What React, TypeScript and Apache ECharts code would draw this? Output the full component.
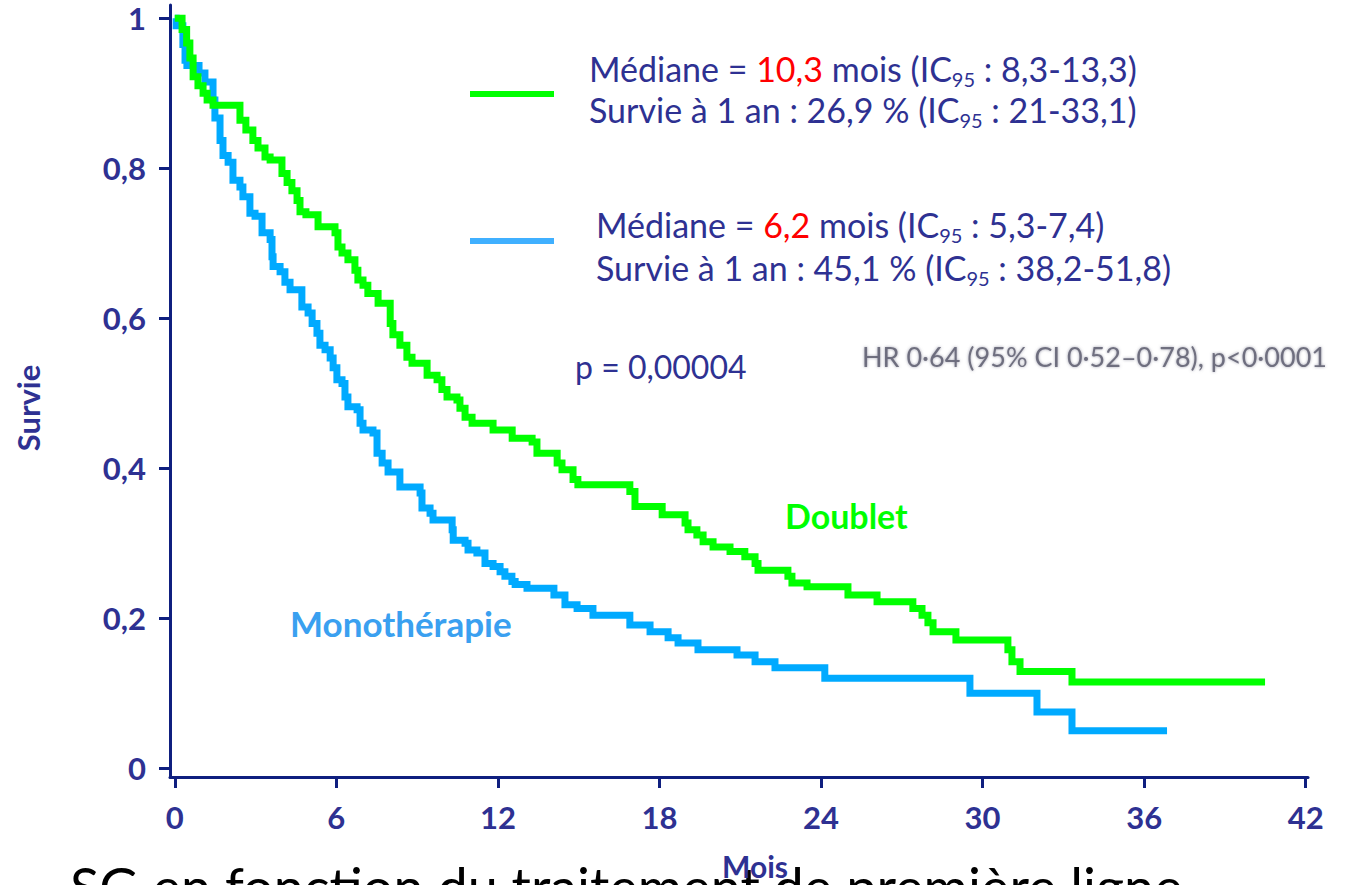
import React, { useEffect, useRef } from "react";
import * as echarts from "echarts";

// Axis ticks
const monthTicks = [0, 6, 12, 18, 24, 30, 36, 42];
const survivalTicks = [0, 0.2, 0.4, 0.6, 0.8, 1];

// Kaplan-Meier steps: month of each event and survival level after it
const doubletMonths = [
  0, 0.27, 0.44, 0.56, 0.68, 0.86, 1.05, 1.2, 1.42, 2.42, 2.64, 2.9, 3.09, 3.35, 3.54,
  3.98, 4.17, 4.35, 4.54, 4.65, 4.87, 5.32, 5.95, 6.06, 6.21, 6.43, 6.69, 6.8, 6.99,
  7.17, 7.55, 8.0, 8.1, 8.36, 8.62, 8.81, 9.37, 9.74, 9.92, 10.11, 10.48, 10.59, 10.78,
  11.04, 11.82, 12.53, 13.27, 13.45, 14.2, 14.38, 14.79, 14.97, 16.9, 17.09, 18.1,
  18.95, 19.06, 19.39, 19.62, 19.99, 20.62, 21.17, 21.55, 21.66, 22.77, 22.92, 23.48,
  25.0, 26.08, 27.41, 27.75, 27.97, 28.16, 29.01, 30.94, 31.09, 31.39, 33.32, 40.49,
];
const doubletSurvival = [
  1, 0.985, 0.967, 0.947, 0.922, 0.91, 0.9, 0.891, 0.884, 0.864, 0.851, 0.837, 0.827,
  0.815, 0.811, 0.793, 0.781, 0.77, 0.757, 0.742, 0.738, 0.722, 0.714, 0.695, 0.687,
  0.678, 0.664, 0.651, 0.644, 0.633, 0.62, 0.593, 0.578, 0.564, 0.548, 0.54, 0.524,
  0.518, 0.505, 0.495, 0.491, 0.48, 0.468, 0.46, 0.451, 0.44, 0.435, 0.42, 0.407,
  0.398, 0.385, 0.378, 0.369, 0.349, 0.338, 0.327, 0.318, 0.311, 0.302, 0.295, 0.289,
  0.282, 0.273, 0.264, 0.256, 0.247, 0.242, 0.231, 0.222, 0.213, 0.204, 0.194, 0.182,
  0.171, 0.158, 0.142, 0.129, 0.115, 0.115,
];

const monoMonths = [
  0, 0.05, 0.3, 0.38, 0.45, 0.9, 1.12, 1.42, 1.49, 1.68, 1.79, 1.98, 2.16, 2.42, 2.53,
  2.79, 2.98, 3.24, 3.54, 3.61, 3.65, 3.91, 4.09, 4.28, 4.72, 4.95, 5.1, 5.28, 5.39,
  5.58, 5.77, 5.88, 6.02, 6.21, 6.32, 6.43, 6.77, 6.88, 6.99, 7.36, 7.51, 7.7, 7.92,
  8.36, 9.11, 9.18, 9.48, 9.59, 10.3, 10.34, 10.78, 10.89, 11.22, 11.52, 11.82, 12.08,
  12.26, 12.52, 12.64, 13.08, 14.08, 14.49, 14.94, 15.53, 16.9, 17.65, 18.32, 18.69,
  19.43, 20.88, 21.55, 22.29, 24.14, 29.53, 32.02, 33.32, 36.85,
];
const monoSurvival = [
  1, 0.99, 0.965, 0.944, 0.937, 0.927, 0.915, 0.891, 0.867, 0.837, 0.817, 0.808, 0.784,
  0.775, 0.762, 0.74, 0.736, 0.714, 0.705, 0.682, 0.669, 0.662, 0.648, 0.638, 0.615,
  0.607, 0.593, 0.58, 0.564, 0.558, 0.547, 0.534, 0.518, 0.513, 0.495, 0.482, 0.478,
  0.46, 0.451, 0.447, 0.42, 0.407, 0.395, 0.375, 0.367, 0.347, 0.34, 0.331, 0.318,
  0.304, 0.3, 0.291, 0.287, 0.273, 0.269, 0.262, 0.256, 0.249, 0.245, 0.24, 0.231,
  0.218, 0.213, 0.204, 0.191, 0.182, 0.174, 0.167, 0.158, 0.151, 0.142, 0.134, 0.12,
  0.1, 0.075, 0.05, 0.05,
];

const NAVY = "#2e3192";
const AXIS = "#0f1f7f";
const GREEN = "#00ff00";
const BLUE = "#00aaff";
const FONT = "Lato, 'Open Sans', sans-serif";

const pairs = (xs: number[], ys: number[]) => xs.map((x, i) => [x, ys[i]]);

const txt = (
  x: number,
  y: number,
  text: string,
  size: number,
  fill: string,
  opts: Record<string, any> = {}
) => ({
  type: "text",
  x,
  y,
  rotation: opts.rotation || 0,
  z: opts.z || 10,
  style: {
    text,
    fill,
    font: `${opts.weight || "normal"} ${size}px ${FONT}`,
    align: opts.align || "left",
    textAlign: opts.align || "left",
    verticalAlign: "middle",
    textVerticalAlign: "middle",
    rich: opts.rich,
    opacity: opts.opacity,
    textShadowBlur: opts.blur,
    textShadowColor: opts.blurColor,
  },
});

const LEG = 34;
const legendRich = {
  a: { fontSize: LEG, fontFamily: FONT, fill: NAVY, lineHeight: 42, verticalAlign: "middle" },
  r: { fontSize: LEG, fontFamily: FONT, fill: "#ff0000", lineHeight: 42, verticalAlign: "middle" },
  s: { fontSize: 20, fontFamily: FONT, fill: NAVY, lineHeight: 25, verticalAlign: "bottom" },
};

export default function App() {
  const ref = useRef<HTMLDivElement>(null);

  useEffect(() => {
    if (!ref.current) return;
    const chart = echarts.init(ref.current, undefined, { renderer: "svg" });

    const labelFmt = (v: number) =>
      v === 0 ? "0" : v === 1 ? "1" : v.toFixed(1).replace(".", ",");

    chart.setOption({
      animation: false,
      backgroundColor: "#ffffff",
      grid: { left: 170, right: 53, top: 5, bottom: 108, containLabel: false },
      xAxis: {
        type: "value",
        min: -0.178,
        max: 42.085,
        splitLine: { show: false },
        axisLine: { show: true, onZero: false, lineStyle: { color: AXIS, width: 3 } },
        axisTick: {
          show: true,
          customValues: monthTicks,
          length: 11,
          lineStyle: { color: AXIS, width: 3 },
        },
        axisLabel: {
          customValues: monthTicks,
          color: NAVY,
          fontFamily: FONT,
          fontWeight: "bold",
          fontSize: 31,
          margin: 24,
        },
      },
      yAxis: {
        type: "value",
        min: -0.0116,
        max: 1.0177,
        splitLine: { show: false },
        axisLine: { show: true, onZero: false, lineStyle: { color: AXIS, width: 3 } },
        axisTick: {
          show: true,
          customValues: survivalTicks,
          length: 11,
          lineStyle: { color: AXIS, width: 3 },
        },
        axisLabel: {
          customValues: survivalTicks,
          formatter: labelFmt,
          color: NAVY,
          fontFamily: FONT,
          fontWeight: "bold",
          fontSize: 31,
          margin: 24,
        },
      },
      series: [
        {
          name: "Monothérapie",
          type: "line",
          step: "end",
          showSymbol: false,
          data: pairs(monoMonths, monoSurvival),
          lineStyle: { color: BLUE, width: 7, join: "miter", cap: "butt" },
          itemStyle: { color: BLUE },
        },
        {
          name: "Doublet",
          type: "line",
          step: "end",
          showSymbol: false,
          data: pairs(doubletMonths, doubletSurvival),
          lineStyle: { color: GREEN, width: 7, join: "miter", cap: "butt" },
          itemStyle: { color: GREEN },
        },
      ],
      graphic: [
        {
          type: "line",
          shape: { x1: 470, y1: 94, x2: 554, y2: 94 },
          style: { stroke: "#00ff00", lineWidth: 6 },
        },
        {
          type: "line",
          shape: { x1: 470, y1: 241, x2: 554, y2: 241 },
          style: { stroke: "#40b0ff", lineWidth: 6 },
        },
        txt(589, 68, "{a|Médiane = }{r|10,3}{a| mois (IC}{s|95}{a| : 8,3-13,3)}", LEG, NAVY, { rich: legendRich }),
        txt(589, 109, "{a|Survie à 1 an : 26,9 % (IC}{s|95}{a| : 21-33,1)}", LEG, NAVY, { rich: legendRich }),
        txt(596, 224, "{a|Médiane = }{r|6,2}{a| mois (IC}{s|95}{a| : 5,3-7,4)}", LEG, NAVY, { rich: legendRich }),
        txt(596, 267, "{a|Survie à 1 an : 45,1 % (IC}{s|95}{a| : 38,2-51,8)}", LEG, NAVY, { rich: legendRich }),
        txt(575, 366, "p = 0,00004", 32, NAVY),
        txt(862, 356, "HR 0·64 (95% CI 0·52–0·78), p<0·0001", 27, "#5e5e70", {
          opacity: 0.85,
          blur: 3,
          blurColor: "rgba(120,120,140,0.8)",
        }),
        txt(785, 515, "Doublet", 34, GREEN, { weight: "bold" }),
        txt(290, 623, "Monothérapie", 35, "#3aa0f0", { weight: "bold" }),
        txt(28, 408, "Survie", 31, NAVY, { weight: "bold", align: "center", rotation: Math.PI / 2 }),
        txt(70, 886, "SG en fonction du traitement de première ligne", 54, "#000000", { z: 9 }),
        txt(755, 866, "Mois", 30, NAVY, { weight: "bold", align: "center", z: 11 }),
      ],
    });

    return () => chart.dispose();
  }, []);

  return (
    <div
      ref={ref}
      style={{ position: "absolute", left: 0, top: 0, width: 1361, height: 885, overflow: "hidden" }}
    />
  );
}
